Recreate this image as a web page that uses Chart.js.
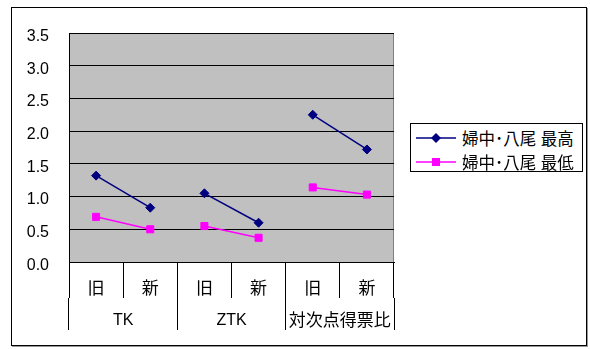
<!DOCTYPE html>
<html>
<head>
<meta charset="utf-8">
<script src="https://cdn.jsdelivr.net/npm/chart.js@4"></script>
<style>
  html, body { margin: 0; padding: 0; background: #fff; }
  #wrap { position: relative; width: 590px; height: 349px; overflow: hidden; }
  #frame { position: absolute; left: 11px; top: 7px; width: 576px; height: 339px;
           box-sizing: border-box; border: 1px solid #000; box-shadow: 1px 1px 0 #999; }
  #chart { position: absolute; left: 0; top: 0; }
  #legend { position: absolute; left: 410px; top: 123px; width: 173px; height: 49px;
            box-sizing: border-box; border: 1px solid #000; background: #fff;
            font-family: "Liberation Sans", "Noto Sans CJK JP", sans-serif; font-size: 16.5px; color: #000; }
  .item { position: absolute; left: 5px; height: 20px; display: flex; align-items: center; white-space: nowrap; }
  .item svg { margin-right: 6px; }
</style>
</head>
<body>
<div id="wrap">
  <div id="frame"></div>
  <canvas id="chart" width="590" height="349"></canvas>
  <div id="legend"></div>
</div>
<script>
// Category labels: period within each measure, and the measures themselves
const periods = ['旧', '新', '旧', '新', '旧', '新'];
const groups = ['TK', 'ZTK', '対次点得票比'];

// Series values
const seriesNames = ['婦中･八尾 最高', '婦中･八尾 最低'];
const highest = [1.32, 0.83, 1.05, 0.60, 2.25, 1.72];
const lowest = [0.69, 0.50, 0.55, 0.37, 1.14, 1.03];

// Value axis ticks
const yTicks = [0, 0.5, 1.0, 1.5, 2.0, 2.5, 3.0, 3.5];

const NAVY = '#000080';
const MAGENTA = '#FF00FF';
const FONT = '"Liberation Sans", "Noto Sans CJK JP", sans-serif';

// Only join the two periods of the same measure
const joinWithinGroup = (color) => (ctx) => (ctx.p0DataIndex % 2 === 1 ? 'rgba(0,0,0,0)' : color);

// Grey plot background with a grey right edge
const plotBackground = {
  id: 'plotBackground',
  beforeDraw(chart) {
    const { ctx, chartArea: a } = chart;
    ctx.save();
    ctx.fillStyle = '#C0C0C0';
    ctx.fillRect(a.left, a.top, a.right - a.left, a.bottom - a.top);
    ctx.strokeStyle = '#808080';
    ctx.lineWidth = 1;
    ctx.beginPath();
    ctx.moveTo(Math.round(a.right) - 0.5, a.top);
    ctx.lineTo(Math.round(a.right) - 0.5, a.bottom);
    ctx.stroke();
    ctx.restore();
  }
};

const isLatin = (s) => /^[A-Za-z0-9 ]+$/.test(s);

const chart = new Chart(document.getElementById('chart'), {
  type: 'line',
  data: {
    labels: periods,
    datasets: [
      {
        label: seriesNames[0],
        data: highest,
        borderColor: NAVY,
        backgroundColor: NAVY,
        borderWidth: 1.5,
        pointStyle: 'rectRot',
        pointRadius: 4.5,
        pointHoverRadius: 4.5,
        pointBorderWidth: 1,
        segment: { borderColor: joinWithinGroup(NAVY) }
      },
      {
        label: seriesNames[1],
        data: lowest,
        borderColor: MAGENTA,
        backgroundColor: MAGENTA,
        borderWidth: 1.5,
        pointStyle: 'rect',
        pointRadius: 5,
        pointHoverRadius: 5,
        pointBorderWidth: 1,
        segment: { borderColor: joinWithinGroup(MAGENTA) }
      }
    ]
  },
  options: {
    responsive: false,
    animation: false,
    events: [],
    layout: { padding: { left: 0, top: 33, right: 196, bottom: 19 } },
    plugins: {
      legend: { display: false },
      tooltip: { enabled: false }
    },
    scales: {
      x: {
        type: 'category',
        position: 'bottom',
        weight: 0,
        offset: true,
        grid: { display: true, drawOnChartArea: false, offset: true, color: '#000', lineWidth: 1, tickLength: 36, tickWidth: 1, tickColor: '#000' },
        border: { display: true, color: '#000', width: 1 },
        ticks: { color: '#000', font: { family: FONT, size: 17 }, padding: -19, maxRotation: 0, autoSkip: false },
        afterFit(scale) { scale.height = 36; }
      },
      x2: {
        type: 'category',
        position: 'bottom',
        weight: 1,
        labels: groups,
        offset: true,
        grid: { display: true, drawOnChartArea: false, offset: true, color: '#000', lineWidth: 1, tickLength: 32, tickColor: '#000' },
        border: { display: false },
        ticks: {
          color: '#000',
          font: (ctx) => ({ family: FONT, size: isLatin(groups[ctx.index] || '') ? 16 : 17 }),
          padding: -19,
          maxRotation: 0,
          autoSkip: false
        },
        afterFit(scale) { scale.height = 32; }
      },
      y: {
        min: 0,
        max: 3.5,
        afterBuildTicks(scale) { scale.ticks = yTicks.map((v) => ({ value: v })); },
        grid: { color: '#000', lineWidth: 1, drawTicks: false },
        border: { display: true, color: '#000', width: 1 },
        ticks: {
          color: '#000',
          font: { family: FONT, size: 16 },
          padding: 20,
          labelOffset: 3.5,
          callback: (v) => Number(v).toFixed(1)
        },
        afterFit(scale) { scale.width = 69; }
      }
    }
  },
  plugins: [plotBackground]
});

// Legend entries built from the datasets: line sample with the series marker
const legend = document.getElementById('legend');
chart.data.datasets.forEach((ds, i) => {
  const item = document.createElement('div');
  item.className = 'item';
  item.style.top = (4 + i * 24) + 'px';
  const c = ds.borderColor;
  const marker = ds.pointStyle === 'rectRot'
    ? `<polygon points="20,5 25,10 20,15 15,10" fill="${c}"/>`
    : `<rect x="16" y="6" width="8" height="8" fill="${c}"/>`;
  item.innerHTML = `<svg width="40" height="20"><line x1="0" y1="10" x2="40" y2="10" stroke="${c}" stroke-width="1.5"/>${marker}</svg><span>${ds.label}</span>`;
  legend.appendChild(item);
});
</script>
</body>
</html>
